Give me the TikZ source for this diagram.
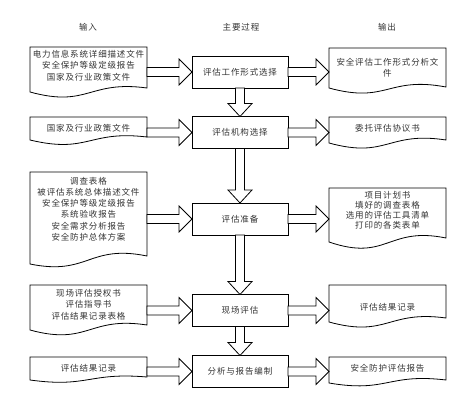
\documentclass[tikz,border=0pt]{standalone}
\usepackage{fontspec}
\newfontfamily\cjk[LetterSpace=10]{Noto Sans CJK SC}
\usetikzlibrary{calc}
\tikzset{
  line/.style={draw=black,line width=0.8pt},
  txt/.style={font=\cjk\fontsize{8.5}{11.3}\selectfont,align=center,text=black!80,inner sep=0pt},
  docbody/.style={inner sep=0pt,outer sep=0pt,draw=none},
  proc/.style={line,fill=white,minimum width=96pt,minimum height=32pt,inner sep=0pt,outer sep=0pt,font=\cjk\fontsize{8.5}{11}\selectfont,text=black!80},
  blk/.style={line,fill=white,line join=miter}
}
\newcommand\setwave[3]{\def\wa{#1}\def\wb{#2}\def\we{#3}}
% doc: name, x0, top, x1, bottom-left y, text offset from top, text, baselineskip
\newcommand\docshape[8]{%
  \node[docbody,anchor=north west,minimum width={(#4-#2)*1pt},minimum height={(#5-#3)*1pt}] (#1) at (#2,#3) {};
  \draw[line,fill=white] (#1.south west) -- (#1.north west) -- (#1.north east) -- ([yshift=\we pt]#1.south east)
     .. controls ([yshift=\wb pt]#1.south) and ([yshift=-\wa pt]#1.south) .. (#1.south west) -- cycle;
  \node[txt,font=\cjk\fontsize{8.5}{#8}\selectfont] (#1t) at ($(#1.north)+(0,#6)$) {#7};}
\newcommand\harr[3]{%
  \draw[blk] let \p1=(#1.east), \p2=(#2.west), \p3=(#3.center) in
    (\x1,\y3+4.5pt) -- (\x2-13pt,\y3+4.5pt) -- (\x2-13pt,\y3+13pt) -- (\x2,\y3)
    -- (\x2-13pt,\y3-13pt) -- (\x2-13pt,\y3-4.5pt) -- (\x1,\y3-4.5pt) -- cycle;}
\newcommand\varr[2]{%
  \draw[blk] let \p1=(#1.south), \p2=(#2.north) in
    (\x1-4.5pt,\y1) -- (\x1-4.5pt,\y2+13pt) -- (\x1-12pt,\y2+13pt) -- (\x1,\y2)
    -- (\x1+12pt,\y2+13pt) -- (\x1+4.5pt,\y2+13pt) -- (\x1+4.5pt,\y1) -- cycle;}
\begin{document}
\begin{tikzpicture}[x=1pt,y=-1pt]
\useasboundingbox[fill=white] (0,0) rectangle (451,408);
% headers
\node[txt] (h1) at (88,27) {输入};
\node[txt] (h2) at (241,27) {主要过程};
\node[txt] (h3) at (387,27) {输出};
% process boxes
\node[proc] (P1) at (240,72) {评估工作形式选择};
\node[proc] (P2) at (240,132.5) {评估机构选择};
\node[proc] (P3) at (240,219) {评估准备};
\node[proc] (P4) at (240,310.5) {现场评估};
\node[proc] (P5) at (240,371.5) {分析与报告编制};
% input docs
\setwave{16}{12}{4}
\docshape{L1}{30}{47}{147}{92}{18.5}{电力信息系统详细描述文件\\安全保护等级定级报告\\国家及行业政策文件}{11.5}
\setwave{14}{10}{3}
\docshape{L2}{30}{117}{147}{140}{11}{国家及行业政策文件}{11}
\setwave{12}{20}{8}
\docshape{L3}{30}{172}{147}{264}{37}{调查表格\\被评估系统总体描述文件\\安全保护等级定级报告\\系统验收报告\\安全需求分析报告\\安全防护总体方案}{11.2}
\setwave{16}{14}{5}
\docshape{L4}{30}{285}{147}{330}{19.5}{现场评估授权书\\评估指导书\\评估结果记录表格}{11.5}
\setwave{8}{8}{3}
\docshape{L5}{30}{357}{147}{380}{11}{评估结果记录}{11}
% output docs
\setwave{16}{12}{1}
\docshape{R1}{329}{48}{446}{88}{19.5}{安全评估工作形式分析文\\件}{11}
\setwave{16}{12}{3}
\docshape{R2}{329}{117}{446}{143}{11}{委托评估协议书}{11}
\setwave{20}{16}{4}
\docshape{R3}{329}{188}{446}{242}{22}{项目计划书\\填好的调查表格\\选用的评估工具清单\\打印的各类表单}{10}
\setwave{16}{12}{4}
\docshape{R4}{329}{285}{446}{322}{22}{评估结果记录}{11}
\setwave{10}{10}{3}
\docshape{R5}{329}{357}{446}{383}{11}{安全防护评估报告}{11}
% arrows in
\harr{L1}{P1}{P1}
\harr{L2}{P2}{P2}
\harr{L3}{P3}{P3}
\harr{L4}{P4}{P4}
\harr{L5}{P5}{P5}
% arrows out
\harr{P1}{R1}{P1}
\harr{P2}{R2}{P2}
\harr{P3}{R3}{P3}
\harr{P4}{R4}{P4}
\harr{P5}{R5}{P5}
% vertical
\varr{P1}{P2}
\varr{P2}{P3}
\varr{P3}{P4}
\varr{P4}{P5}
\end{tikzpicture}
\end{document}
